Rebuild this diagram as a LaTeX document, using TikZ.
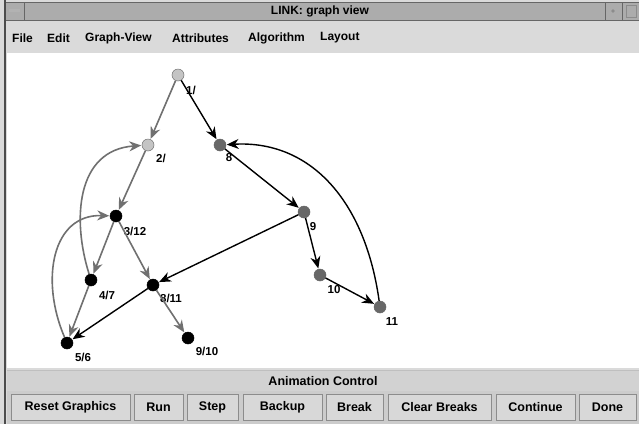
\documentclass[tikz,border=0pt]{standalone}
\usepackage{fontspec}
\setmainfont{Liberation Sans}
\usetikzlibrary{arrows.meta}
\definecolor{edgegray}{HTML}{707070}
\definecolor{lightnode}{HTML}{C4C4C4}
\definecolor{darknode}{HTML}{686868}
\definecolor{titlebg}{HTML}{ACACAC}
\definecolor{menubg}{HTML}{DADADA}
\definecolor{panelbg}{HTML}{D2D2D2}
\definecolor{btnbg}{HTML}{D8D8D8}
\tikzset{
  vtx/.style={circle,inner sep=0pt,minimum size=12pt,draw=black!70,line width=0.5pt},
  lightv/.style={vtx,fill=lightnode,draw=edgegray},
  grayv/.style={vtx,fill=darknode,draw=black!60},
  blackv/.style={vtx,fill=black,draw=black},
  lbl/.style={font=\bfseries\fontsize{11.5}{12}\selectfont,inner sep=0pt},
  gedge/.style={draw=edgegray,line width=1.6pt,-{Stealth[length=12pt,width=10pt]},shorten >=0.5pt},
  bedge/.style={draw=black,line width=1.4pt,-{Stealth[length=12pt,width=10pt]},shorten >=0.5pt},
  menut/.style={font=\bfseries\fontsize{12}{13}\selectfont,inner sep=0pt,anchor=west},
  btn/.style={draw=black!45,fill=btnbg,line width=0.8pt},
  btnt/.style={font=\bfseries\fontsize{12.5}{13}\selectfont,inner sep=0pt}
}
\begin{document}
\begin{tikzpicture}[x=1pt,y=-1pt]
\useasboundingbox (0,0) rectangle (639,424);
% window background
\fill[menubg] (0,0) rectangle (639,424);
% title bar
\fill[titlebg] (5,2) rectangle (639,20);
\draw[black!60,line width=1pt] (5,2) rectangle (639,20);
\draw[black!60,line width=0.8pt] (24,2) -- (24,20);
\draw[black!60,line width=0.8pt] (605,2) -- (605,20) (622,2) -- (622,20);
\fill[black!30] (9,9) rectangle (20,12);
\fill[black!45] (613,11) circle (1.8pt);
\draw[black!45,line width=0.6pt] (626,5) rectangle (636,17);
\node[font=\bfseries\fontsize{12}{13}\selectfont,inner sep=0pt] (title) at (320,11) {LINK: graph view};
% menu bar
\node[menut] (mfile) at (12,38) {File};
\node[menut] (medit) at (47,38) {Edit};
\node[menut] (mgv) at (85,38) {Graph-View};
\node[menut] (mattr) at (172,38) {Attributes};
\node[menut] (malg) at (248,38) {Algorithm};
\node[menut] (mlay) at (320,38) {Layout};
% canvas
\fill[white] (7,53) rectangle (639,368);
% left frame
\draw[black!70,line width=1.4pt] (5,0) -- (5,424);
% animation control
\fill[panelbg] (7,370) rectangle (639,391);
\draw[black!25,line width=0.6pt] (7,370) -- (639,370);
\node[btnt] (anim) at (323,381) {Animation Control};
\fill[black!20] (7,391) rectangle (639,424);
% buttons
\foreach \xa/\xb/\t in {11/130/Reset Graphics,134/183/Run,187/238/Step,243/322/Backup,326/383/Break,388/491/Clear Breaks,496/575/Continue,579/636/Done}{
  \draw[btn] (\xa,394) rectangle (\xb,420);
  \node[btnt] at ({(\xa+\xb)/2},407.5) {\t};
}
% graph nodes
\node[lightv] (n1) at (178,75) {};
\node[lightv] (n2) at (148,145) {};
\node[grayv] (n8) at (220,145) {};
\node[grayv] (n9) at (304,212) {};
\node[grayv] (n10) at (320,275) {};
\node[grayv] (n11) at (380,307) {};
\node[blackv] (n3) at (116,216) {};
\node[blackv] (n4) at (91,280) {};
\node[blackv] (n6) at (153,285) {};
\node[blackv] (n5) at (67,343) {};
\node[blackv] (n7) at (188,338) {};
% labels
\node[lbl] (l1) at (191,90) {1/};
\node[lbl] (l2) at (161,158) {2/};
\node[lbl] (l8) at (229,158) {8};
\node[lbl] (l9) at (313,227) {9};
\node[lbl] (l10) at (334,290) {10};
\node[lbl] (l11) at (392,322) {11};
\node[lbl] (l3) at (135,231) {3/12};
\node[lbl] (l4) at (107,295) {4/7};
\node[lbl] (l6) at (171,298) {8/11};
\node[lbl] (l5) at (83,357) {5/6};
\node[lbl] (l7) at (207,351) {9/10};
% gray edges
\draw[gedge] (n1) -- (n2);
\draw[gedge] (n2) -- (n3);
\draw[gedge] (n3) -- (n4);
\draw[gedge] (n3) -- (n6);
\draw[gedge] (n4) -- (n5);
\draw[gedge] (n6) -- (n7);
\draw[gedge] (n4) .. controls (72,220) and (76,150) .. (n2);
\draw[gedge] (n5) .. controls (40,280) and (52,214) .. (n3);
% black edges
\draw[bedge] (n1) -- (n8);
\draw[bedge] (n8) -- (n9);
\draw[bedge] (n9) -- (n10);
\draw[bedge] (n10) -- (n11);
\draw[bedge] (n9) -- (n6);
\draw[bedge] (n6) -- (n5);
\draw[bedge] (n11) .. controls (365,200) and (310,140) .. (n8);
\end{tikzpicture}
\end{document}
